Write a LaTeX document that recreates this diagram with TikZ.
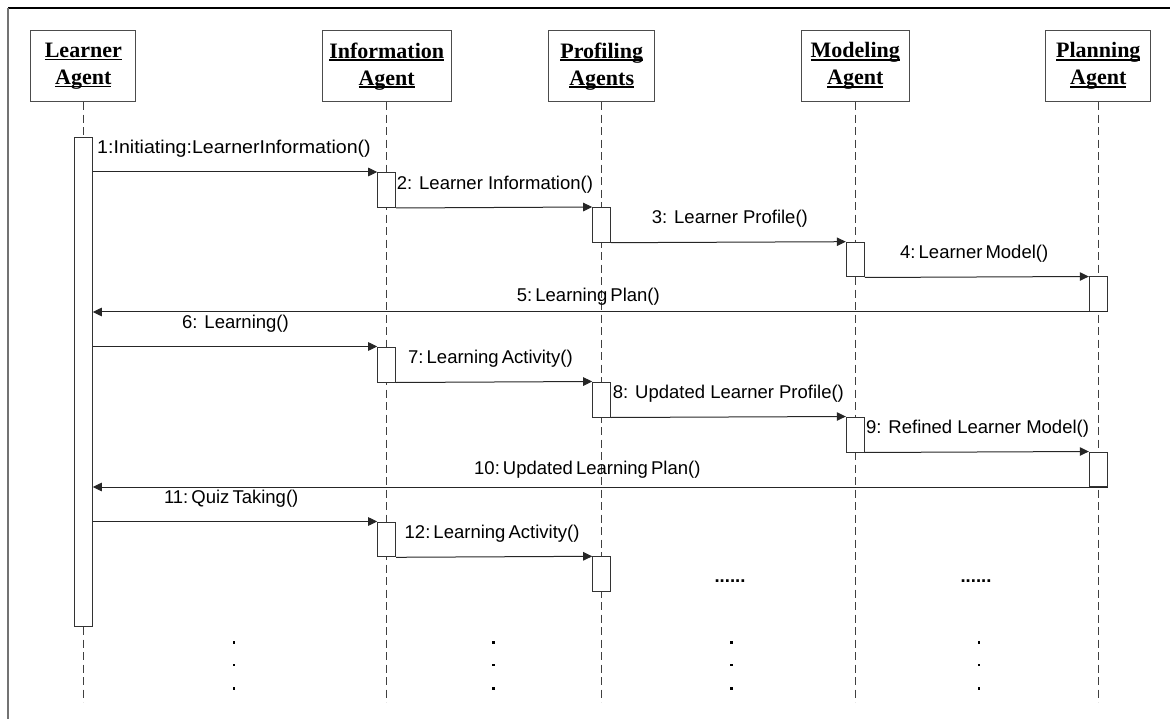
\documentclass[tikz,border=0pt]{standalone}
\usepackage{fontspec}
\setmainfont{Liberation Serif}
\newfontfamily\arialfont{Liberation Sans}
\usetikzlibrary{arrows.meta}
\newcommand\hul[1]{\sbox0{#1}\rlap{\rule[-2.6pt]{\wd0}{1.2pt}}\usebox0}
\begin{document}
\begin{tikzpicture}[x=1pt,y=-1pt,
  head/.style={draw=black!70, line width=1pt, fill=white, minimum height=71pt, align=center, inner sep=0pt, font=\fontsize{22}{27}\selectfont\bfseries},
  life/.style={draw=black!75, line width=1pt, dash pattern=on 8pt off 4.5pt},
  bar/.style={draw=black!80, line width=1pt, fill=white, minimum width=18pt, inner sep=0pt, anchor=north},
  msg/.style={draw=black!85, line width=1pt, -{Triangle[length=9pt,width=8.5pt]}},
  lbl/.style={font=\arialfont\fontsize{18.5}{22}\selectfont, inner sep=0pt, anchor=west},
  ell/.style={font=\arialfont\bfseries\fontsize{18.5}{22}\selectfont, inner sep=0pt, anchor=base}
]
\useasboundingbox (0,0) rectangle (1170,719);
% frame
\draw[black, line width=1.5pt] (8,8) -- (1170,8);
\draw[black!55, line width=2pt] (8,8) -- (8,719);

% heads
\node[head, minimum width=105pt] (hL) at (83.3,66.2) {\hul{Learner}\\\hul{Agent}};
\node[head, minimum width=129pt] (hI) at (386.7,66.2) {\hul{Information}\\\hul{Agent}};
\node[head, minimum width=106pt] (hP) at (601.7,66.2) {\hul{Profiling}\\\hul{Agents}};
\node[head, minimum width=108pt] (hM) at (855.3,66.2) {\hul{Modeling}\\\hul{Agent}};
\node[head, minimum width=105pt] (hN) at (1098.3,66.2) {\hul{Planning}\\\hul{Agent}};

% lifelines
\path (hL.south) ++(0,600) coordinate (eL);
\path (hI.south) ++(0,600) coordinate (eI);
\path (hP.south) ++(0,600) coordinate (eP);
\path (hM.south) ++(0,600) coordinate (eM);
\path (hN.south) ++(0,600) coordinate (eN);
\draw[life] (hL.south) -- (eL);
\draw[life] (hI.south) -- (eI);
\draw[life] (hP.south) -- (eP);
\draw[life] (hM.south) -- (eM);
\draw[life] (hN.south) -- (eN);

% activation bars
\node[bar, minimum height=489.3pt] (bL) at (83.3,136.7) {};
\node[bar, minimum height=35pt] (i1) at (386.7,172) {};
\node[bar, minimum height=34.7pt] (p1) at (601.7,207) {};
\node[bar, minimum height=34.8pt] (m1) at (855.3,241.7) {};
\node[bar, minimum height=34.5pt] (n1) at (1098.3,276.5) {};
\node[bar, minimum height=35pt] (i2) at (386.7,346.5) {};
\node[bar, minimum height=35pt] (p2) at (601.7,381.5) {};
\node[bar, minimum height=35pt] (m2) at (855.3,416.5) {};
\node[bar, minimum height=34.5pt] (n2) at (1098.3,451.5) {};
\node[bar, minimum height=34.8pt] (i3) at (386.7,521.5) {};
\node[bar, minimum height=34.7pt] (p3) at (601.7,556.3) {};

% messages
\draw[msg] (bL.east |- i1.north) -- (i1.north west);
\draw[msg] (i1.south east) -- (p1.north west);
\draw[msg] (p1.south east) -- (m1.north west);
\draw[msg] (m1.south east) -- (n1.north west);
\draw[msg] (n1.south east) -- (bL.east |- n1.south);
\draw[msg] (bL.east |- i2.north) -- (i2.north west);
\draw[msg] (i2.south east) -- (p2.north west);
\draw[msg] (p2.south east) -- (m2.north west);
\draw[msg] (m2.south east) -- (n2.north west);
\draw[msg] (n2.south east) -- (bL.east |- n2.south);
\draw[msg] (bL.east |- i3.north) -- (i3.north west);
\draw[msg] (i3.south east) -- (p3.north west);

% labels
\node[lbl] (t1) at (97,149) {\scalebox{1.06}[1]{1:Initiating:LearnerInformation()}};
\node[lbl] (t2) at (396.7,184.5) {2: Learner Information()};
\node[lbl] (t3) at (651.7,219) {3: Learner Profile()};
\node[lbl] (t4) at (900,254) {4:\,Learner\,Model()};
\node[lbl] (t5) at (516.7,296.5) {5:\,Learning\,Plan()};
\node[lbl] (t6) at (182,324) {6: Learning()};
\node[lbl] (t7) at (408,359) {7:\,Learning\,Activity()};
\node[lbl] (t8) at (612.7,394) {8: Updated Learner Profile()};
\node[lbl] (t9) at (866,429) {9: Refined Learner Model()};
\node[lbl] (t10) at (474,470) {10:\,Updated\,Learning\,Plan()};
\node[lbl] (t11) at (163.8,498.5) {11:\,Quiz\,Taking()};
\node[lbl] (t12) at (404.5,533.5) {12:\,Learning\,Activity()};

% ellipses
\node[ell] (d1) at (730,582) {......};
\node[ell] (d2) at (976,582) {......};
\foreach \x in {234,493.7,731.3,979}
  \foreach \y in {642.3,665,688.3}
    \fill (\x-1.3,\y-1.3) rectangle ++(2.6,2.6);
\end{tikzpicture}
\end{document}
